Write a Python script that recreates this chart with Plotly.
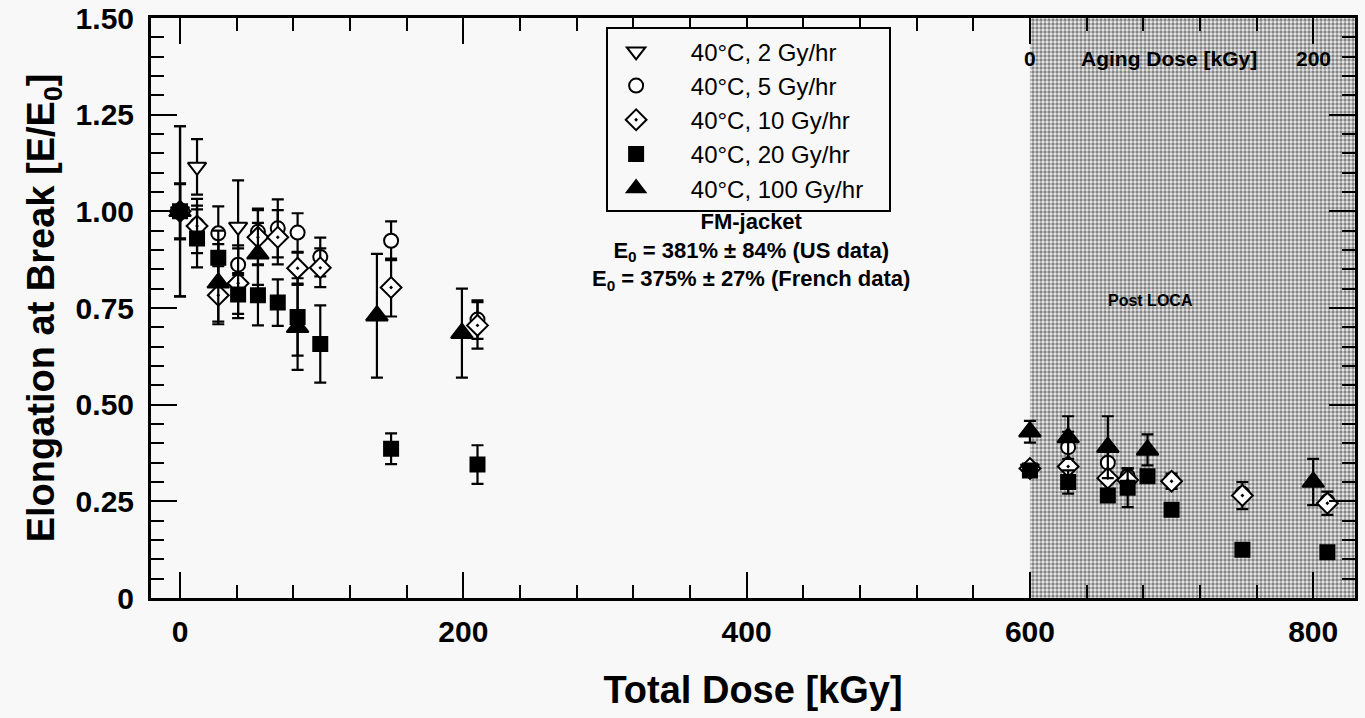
import plotly.graph_objects as go

# ---------------- data ----------------
series_names = ["40°C, 2 Gy/hr", "40°C, 5 Gy/hr", "40°C, 10 Gy/hr",
                "40°C, 20 Gy/hr", "40°C, 100 Gy/hr"]

x_2gy = [0, 12, 41, 600]
y_2gy = [1.0, 1.115, 0.96, 0.335]
e_2gy = [0.22, 0.072, 0.12, None]

x_5gy = [0, 12, 27, 41, 55, 69, 83, 99, 149, 210, 600, 627, 655, 669, 700, 750, 810]
y_5gy = [1.0, 0.965, 0.943, 0.862, 0.947, 0.956, 0.945, 0.882, 0.924, 0.72,
         0.335, 0.39, 0.35, 0.315, 0.305, 0.27, 0.25]
e_5gy = [0.22, 0.05, 0.07, 0.05, 0.06, 0.075, 0.05, 0.05, 0.05, 0.05,
         None, 0.04, 0.03, 0.02, None, None, None]

x_10gy = [0, 12, 27, 41, 55, 69, 83, 99, 149, 210, 600, 627, 655, 669, 700, 750, 810]
y_10gy = [1.0, 0.962, 0.783, 0.814, 0.933, 0.933, 0.853, 0.854, 0.803, 0.705,
          0.335, 0.34, 0.31, 0.305, 0.302, 0.265, 0.245]
e_10gy = [0.07, 0.07, 0.075, 0.09, 0.07, 0.07, 0.04, 0.05, 0.075, 0.06,
          None, None, None, None, 0.02, 0.035, 0.03]

x_20gy = [0, 12, 27, 41, 55, 69, 83, 99, 149, 210, 600, 627, 655, 669, 683, 700, 750, 810]
y_20gy = [1.0, 0.93, 0.88, 0.785, 0.783, 0.764, 0.727, 0.657, 0.386, 0.345,
          0.33, 0.30, 0.265, 0.285, 0.315, 0.228, 0.125, 0.118]
e_20gy = [0.072, 0.075, 0.07, 0.05, 0.078, 0.06, 0.10, 0.10, 0.04, 0.05,
          None, 0.03, None, 0.05, None, None, None, None]

x_100gy = [0, 27, 55, 83, 139, 199, 600, 627, 655, 683, 800]
y_100gy = [1.0, 0.815, 0.89, 0.70, 0.73, 0.685, 0.43, 0.415, 0.39, 0.383, 0.30]
e_100gy = [0.072, 0.1, 0.08, 0.11, 0.16, 0.115, 0.028, 0.055, 0.08, 0.04, 0.06]

post_loca_start = 600
x_range = [-20.5, 829.5]
y_range = [0, 1.5]
x_major, x_minor = 200, 40
y_major, y_minor = 0.25, 0.05
y_tickvals = [0, 0.25, 0.5, 0.75, 1.0, 1.25, 1.5]
y_ticktext = ["0", "0.25", "0.50", "0.75", "1.00", "1.25", "1.50"]
aging_labels = ["0", "200"]
aging_label_x = [600, 800]

# ---------------- figure ----------------
FONT = "Liberation Sans, Arial, sans-serif"
NB = "\u00a0"
fig = go.Figure()

# shaded Post-LOCA region (on the base axes, which carry the minor ticks)
fig.add_trace(go.Scatter(
    x=[post_loca_start, x_range[1], x_range[1], post_loca_start],
    y=[y_range[0], y_range[0], y_range[1], y_range[1]],
    fill="toself", mode="lines", line=dict(width=0),
    fillcolor="#bdbdbd",
    fillpattern=dict(shape=".", fgcolor="#1a1a1a", bgcolor="#ececec",
                     size=4, solidity=0.55),
    showlegend=False, hoverinfo="skip", xaxis="x", yaxis="y"))

styles = [
    (x_2gy, y_2gy, e_2gy, "triangle-down", "white", 16),
    (x_5gy, y_5gy, e_5gy, "circle", "white", 14),
    (x_10gy, y_10gy, e_10gy, "diamond-dot", "white", 16),
    (x_20gy, y_20gy, e_20gy, "square", "black", 14),
    (x_100gy, y_100gy, e_100gy, "triangle-up", "black", 19),
]

for name, (xs, ys, es, sym, col, sz) in zip(series_names, styles):
    fig.add_trace(go.Scatter(
        x=xs, y=ys, mode="markers", name=NB * 4 + name + NB * 3,
        xaxis="x2", yaxis="y2",
        marker=dict(symbol=sym, color=col, size=sz,
                    line=dict(color="black", width=2)),
        error_y=dict(type="data", array=es, visible=True,
                     color="black", thickness=2.2, width=6),
    ))

line_common = dict(showline=True, linecolor="black", linewidth=3,
                   mirror="allticks", ticks="inside", tickcolor="black",
                   tickwidth=2, showgrid=False, zeroline=False)
label_font = dict(family=FONT, size=30, color="black", weight="bold")

fig.update_layout(
    # base axes: minor ticks only
    xaxis=dict(**line_common, range=x_range, tickmode="linear", tick0=0,
               dtick=x_minor, ticklen=13, showticklabels=False),
    yaxis=dict(**line_common, range=y_range, tickmode="linear", tick0=0,
               dtick=y_minor, ticklen=13, showticklabels=False),
    # overlay axes: major ticks, labels and titles
    xaxis2=dict(**line_common, range=x_range, overlaying="x", anchor="y2",
                side="bottom", tickmode="linear", tick0=0, dtick=x_major,
                ticklen=26, tickfont=label_font, ticklabeloverflow="allow",
                ticklabelstandoff=5,
                title=dict(text="Total Dose [kGy]", standoff=30,
                           font=dict(family=FONT, size=38, color="black",
                                     weight="bold"))),
    yaxis2=dict(**line_common, range=y_range, overlaying="y", anchor="x2",
                side="left", tickmode="array", tickvals=y_tickvals,
                ticktext=y_ticktext, ticklen=26, tickfont=label_font,
                ticklabeloverflow="allow", ticklabelstandoff=8,
                title=dict(text="Elongation at Break [E/E<sub>0</sub>]",
                           standoff=10,
                           font=dict(family=FONT, size=38, color="black",
                                     weight="bold"))),
)

annotations = [
    dict(x=403, y=0.895, xref="x2", yref="y2", showarrow=False,
         text="FM-jacket<br>E<sub>0</sub> = 381% ± 84% (US data)<br>"
              "E<sub>0</sub> = 375% ± 27% (French data)",
         font=dict(family=FONT, size=22, color="black", weight="bold"),
         align="center"),
    dict(x=685, y=0.77, xref="x2", yref="y2", showarrow=False,
         text="Post LOCA",
         font=dict(family=FONT, size=16, color="black", weight="bold")),
    dict(x=698, y=1.396, xref="x2", yref="y2", showarrow=False,
         text="Aging Dose [kGy]",
         font=dict(family=FONT, size=21, color="black", weight="bold")),
]
for lab, lx in zip(aging_labels, aging_label_x):
    annotations.append(dict(x=lx, y=1.396, xref="x2", yref="y2",
                            showarrow=False, text=lab,
                            font=dict(family=FONT, size=21, color="black",
                                      weight="bold")))

fig.update_layout(
    width=1365, height=718,
    margin=dict(l=151, r=10, t=18, b=120, autoexpand=False),
    paper_bgcolor="#f8f8f8", plot_bgcolor="#f8f8f8",
    showlegend=True,
    legend=dict(x=0.378, y=0.984, xanchor="left", yanchor="top",
                bgcolor="#f8f8f8", bordercolor="black", borderwidth=2,
                font=dict(family=FONT, size=24, color="black"),
                itemwidth=46, tracegroupgap=0),
    annotations=annotations,
)

# remove the default 8 px page margin so the figure fills the window exactly
fig.write_html("out.html",
               config={"displayModeBar": False},
               post_script="document.body.style.margin='0px';"
                           "document.body.style.background='#f8f8f8';")
